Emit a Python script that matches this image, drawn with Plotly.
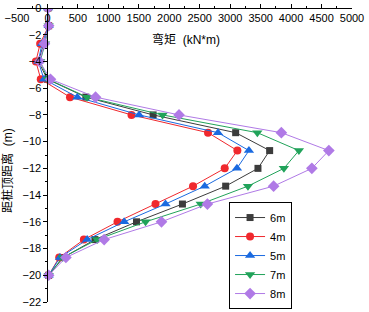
import plotly.graph_objects as go

depth = [0, -1.33, -2.67, -4, -5.33, -6.67, -8, -9.33, -10.67, -12, -13.33, -14.67, -16, -17.33, -18.67, -20]

m6 = [10, 20, -60, -150, 0, 630, 1735, 3090, 3648, 3456, 2926, 2216, 1462, 779, 259, 20]
m4 = [10, 20, -120, -190, -110, 370, 1380, 2636, 3118, 2910, 2390, 1774, 1150, 598, 193, 20]
m5 = [10, 20, -90, -150, -57, 490, 1505, 2800, 3308, 3111, 2582, 1938, 1260, 652, 205, 20]
m7 = [10, 20, -40, -120, 10, 650, 1890, 3446, 4128, 3882, 3292, 2516, 1610, 816, 250, 20]
m8 = [10, 20, -50, -130, 50, 790, 2160, 3840, 4620, 4341, 3713, 2626, 1872, 931, 303, 20]

names = ["6m", "4m", "5m", "7m", "8m"]
series = [m6, m4, m5, m7, m8]
colors = ["#3c3c3c", "#f0282d", "#1a6ae0", "#21a35a", "#b07ae6"]
symbols = ["square", "circle", "triangle-up", "triangle-down", "diamond"]
sizes = [7, 8, 9, 9, 9]

fig = go.Figure()
for n, s, c, sym, sz in zip(names, series, colors, symbols, sizes):
    fig.add_trace(go.Scatter(x=s, y=depth, mode="lines+markers", name=n,
                             line=dict(color=c, width=1),
                             marker=dict(symbol=sym, size=sz, color=c)))

font = "Arial, Liberation Sans, Noto Sans CJK SC"
fig.update_layout(
    width=369, height=312,
    margin=dict(l=17, r=17, t=8, b=10, autoexpand=False),
    paper_bgcolor="white", plot_bgcolor="white",
    font=dict(family=font, size=11, color="black"),
    showlegend=True,
    legend=dict(x=0.633, y=0.34, xanchor="left", yanchor="top",
                bordercolor="black", borderwidth=1, bgcolor="white",
                font=dict(size=11), tracegroupgap=0, itemwidth=30),
    xaxis=dict(range=[-500, 5000], side="bottom", anchor="free", position=1.0,
               dtick=500, showgrid=False, automargin=False,
               zeroline=False, showline=True, linecolor="black", linewidth=1,
               ticks="inside", ticklen=4, tickcolor="black",
               minor=dict(dtick=250, ticks="inside", ticklen=2, tickcolor="black"),
               tickfont=dict(size=11)),
    yaxis=dict(range=[-22, 0], dtick=2, showgrid=False, zeroline=False,
               anchor="free", position=500/5500, automargin=False,
               showline=True, linecolor="black", linewidth=1,
               ticks="outside", ticklen=4, tickcolor="black",
               minor=dict(dtick=1, ticks="outside", ticklen=2, tickcolor="black"),
               tickfont=dict(size=11)),
    annotations=[
        dict(text="弯矩  (kN*m)", xref="paper", yref="paper", x=0.505, y=0.893,
             showarrow=False, font=dict(size=12), xanchor="center", yanchor="middle"),
        dict(text="距桩顶距离  (m)", xref="paper", yref="paper", x=-0.027, y=0.449,
             showarrow=False, font=dict(size=12), textangle=-90,
             xanchor="center", yanchor="middle"),
    ],
)

fig.write_html("out.html", config={"displayModeBar": False},
               post_script="document.body.style.margin='0';")
